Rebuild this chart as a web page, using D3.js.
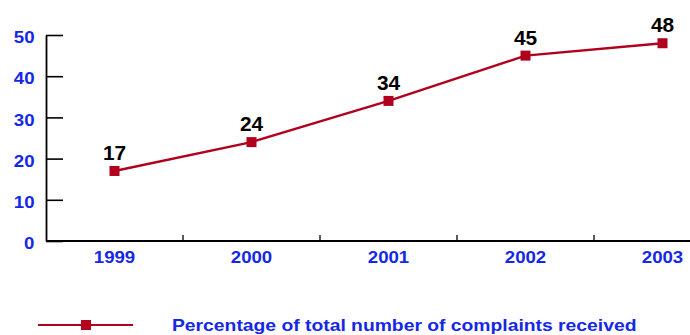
<!DOCTYPE html>
<html>
<head>
<meta charset="utf-8">
<script src="https://cdn.jsdelivr.net/npm/d3@7"></script>
<style>
  html, body { margin: 0; padding: 0; background: #fff; }
  svg { display: block; font-family: "Liberation Sans", Arial, Helvetica, sans-serif; }
</style>
</head>
<body>
<svg id="chart" width="690" height="335"></svg>
<script>
// Share of all complaints received, by year
const years = ["1999", "2000", "2001", "2002", "2003"];
const percentages = [17, 24, 34, 45, 48];
const yTicks = [0, 10, 20, 30, 40, 50];
const seriesName = "Percentage of total number of complaints received";

const lineColor = "#b0001e";
const blue = "#1428e6";
const stretch = 1.13; // slightly widened lettering

const svg = d3.select("#chart");
const plotLeft = 46, plotBottom = 241, plotTop = 35, step = 137;

const x = d3.scalePoint()
  .domain(years)
  .range([plotLeft + step / 2, plotLeft + step * 4.5]);

const y = d3.scaleLinear()
  .domain([0, 50])
  .range([plotBottom, plotTop]);

// place text at (px, py) with horizontal widening
const place = (px, py, sx) => `translate(${px},${py}) scale(${sx},1)`;

// Y axis: ticks point inward
const yAxis = svg.append("g")
  .attr("transform", `translate(${plotLeft},0)`)
  .call(d3.axisRight(y).tickValues(yTicks).tickSize(17).tickSizeOuter(0).tickFormat(""));
yAxis.select(".domain").attr("stroke", "#000").attr("stroke-width", 1.8);
yAxis.selectAll(".tick line").attr("stroke", "#000").attr("stroke-width", 1.6);

svg.append("g").selectAll("text")
  .data(yTicks)
  .join("text")
  .attr("transform", d => place(34.5, y(d), stretch))
  .attr("dy", "0.5em")
  .attr("text-anchor", "end")
  .attr("font-size", 16.5)
  .attr("font-weight", "bold")
  .attr("fill", blue)
  .text(d => d);

// X axis with ticks between categories
const xAxisG = svg.append("g");
xAxisG.append("line")
  .attr("x1", plotLeft).attr("x2", 690)
  .attr("y1", plotBottom).attr("y2", plotBottom)
  .attr("stroke", "#000").attr("stroke-width", 1.8);
xAxisG.selectAll("line.sep")
  .data(years.slice(0, -1))
  .join("line")
  .attr("class", "sep")
  .attr("x1", d => x(d) + step / 2).attr("x2", d => x(d) + step / 2)
  .attr("y1", plotBottom).attr("y2", plotBottom - 6)
  .attr("stroke", "#000").attr("stroke-width", 1.3);
xAxisG.selectAll("text")
  .data(years)
  .join("text")
  .attr("transform", d => place(x(d), 257.5, stretch))
  .attr("dy", "0.36em")
  .attr("text-anchor", "middle")
  .attr("font-size", 16.5)
  .attr("font-weight", "bold")
  .attr("fill", blue)
  .text(d => d);

// Series line and markers
const data = years.map((yr, i) => ({ year: yr, value: percentages[i] }));

svg.append("path")
  .datum(data)
  .attr("fill", "none")
  .attr("stroke", lineColor)
  .attr("stroke-width", 2.4)
  .attr("d", d3.line().x(d => x(d.year)).y(d => y(d.value)));

svg.append("g").selectAll("rect")
  .data(data)
  .join("rect")
  .attr("x", d => x(d.year) - 5)
  .attr("y", d => y(d.value) - 5)
  .attr("width", 10)
  .attr("height", 10)
  .attr("fill", lineColor);

svg.append("g").selectAll("text")
  .data(data)
  .join("text")
  .attr("transform", d => place(x(d.year), y(d.value) - 11, 1.07))
  .attr("text-anchor", "middle")
  .attr("font-size", 19.5)
  .attr("font-weight", "bold")
  .attr("fill", "#000")
  .text(d => d.value);

// Legend
const legend = svg.append("g").attr("transform", "translate(0,325)");
legend.append("line")
  .attr("x1", 38).attr("x2", 133).attr("y1", 0).attr("y2", 0)
  .attr("stroke", lineColor).attr("stroke-width", 2);
legend.append("rect")
  .attr("x", 81).attr("y", -5).attr("width", 10).attr("height", 10)
  .attr("fill", lineColor);
legend.append("text")
  .attr("transform", place(172, 0, 1.185))
  .attr("dy", "0.36em")
  .attr("font-size", 16.3)
  .attr("font-weight", "bold")
  .attr("fill", blue)
  .text(seriesName);
</script>
</body>
</html>
